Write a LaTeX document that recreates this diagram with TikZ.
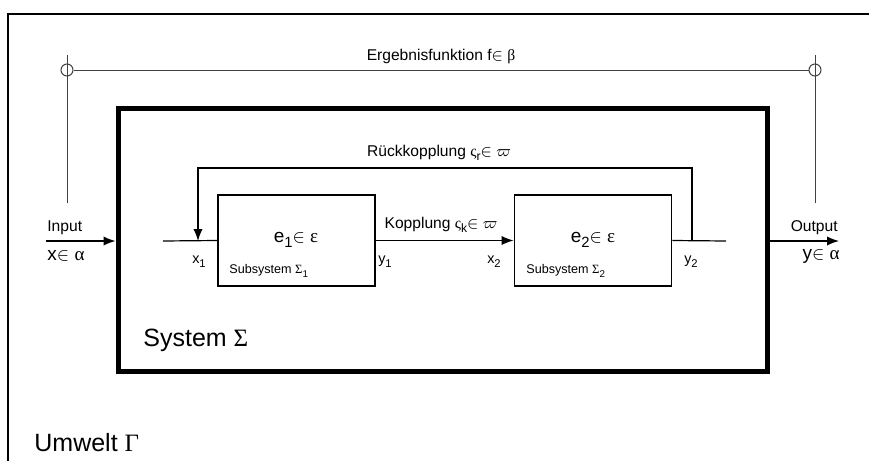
\documentclass[tikz,border=0pt]{standalone}
\usepackage{fontspec}
\setmainfont{Liberation Sans}
\newfontfamily\griech{Liberation Serif}
\usetikzlibrary{arrows.meta}

% tiefgestellter Index, ganz unter die Grundlinie
\newcommand\idx[1]{\raisebox{-0.55ex}{\scalebox{0.78}{#1}}}
\newcommand\gr[1]{{\griech #1}}

\tikzset{
pfeil/.style={-{Latex[length=6pt,width=4.6pt]}},
linie/.style={line width=0.6pt},
duenn/.style={line width=0.5pt, black!75},
teilbox/.style={draw, line width=0.9pt, minimum width=78.5pt, minimum height=45.5pt, inner sep=0pt},
sysbox/.style={draw, line width=2.5pt, minimum width=324.5pt, minimum height=131.5pt, inner sep=0pt},
klein/.style={font=\fontsize{6.3}{7}\selectfont, inner sep=0pt},
index/.style={font=\fontsize{7.2}{8}\selectfont, inner sep=0pt},
mittel/.style={font=\fontsize{7.8}{9}\selectfont, inner sep=0pt},
gross/.style={font=\fontsize{12.5}{14}\selectfont, inner sep=0pt}
}

\begin{document}
\begin{tikzpicture}[x=0.5pt,y=-0.5pt]

\useasboundingbox
(0,0)
rectangle
(869,461);

% Umwelt
\draw[line width=1pt]
(8,461)
|-
(869,14);

\node[gross, anchor=west]
(umwelt)
at (34,443)
{Umwelt \gr{Γ}};

% Ergebnisfunktion
\node[duenn, draw, circle, minimum size=6pt, inner sep=0pt]
(kl)
at (67,70)
{};

\node[duenn, draw, circle, minimum size=6pt, inner sep=0pt]
(kr)
at (815,70)
{};

\draw[duenn]
(kl.east)
--
(kr.west);

\coordinate (vl1) at (67,55);
\coordinate (vl2) at (67,203);
\coordinate (vr1) at (815,55);
\coordinate (vr2) at (815,203);

\draw[duenn]
(vl1)
--
(vl2);

\draw[duenn]
(vr1)
--
(vr2);

\node[mittel]
(erg)
at (441,57)
{Ergebnisfunktion f$\in$ \gr{β}};

% System
\node[sysbox]
(sys)
at (442.5,239.5)
{};

\node[gross, anchor=west]
(sysname)
at (143,340)
{System \gr{Σ}};

% Input und Output
\coordinate (ein) at (46,241);
\coordinate (aus) at (839,241);

\draw[linie, pfeil]
(ein)
--
(sys.west |- ein);

\draw[linie, pfeil]
(sys.east |- aus)
--
(aus);

\node[mittel, anchor=west]
(input)
at (47,228)
{Input};

\node[mittel, anchor=west, font=\fontsize{9.5}{10}\selectfont]
(xin)
at (47,256)
{x$\in$ \gr{α}};

\node[mittel, anchor=east]
(output)
at (838,228)
{Output};

\node[mittel, anchor=east, font=\fontsize{9.5}{10}\selectfont]
(yout)
at (840,256)
{y$\in$ \gr{α}};

% Subsysteme
\node[teilbox]
(e1)
at (296.5,240.5)
{};

\node[teilbox]
(e2)
at (593,240.5)
{};

\node[font=\fontsize{9.5}{11}\selectfont, inner sep=0pt]
(e1txt)
at (296,240)
{e\idx{1}$\in$ \gr{ε}};

\node[font=\fontsize{9.5}{11}\selectfont, inner sep=0pt]
(e2txt)
at (593,240)
{e\idx{2}$\in$ \gr{ε}};

\node[klein, anchor=west]
(sub1)
at (229,271)
{Subsystem \gr{Σ}\idx{1}};

\node[klein, anchor=west]
(sub2)
at (526,271)
{Subsystem \gr{Σ}\idx{2}};

% Kopplungen
\coordinate (x1a) at (163,241);
\coordinate (y2a) at (726,241);
\coordinate (fbl) at (198,241);
\coordinate (fbr) at (692,241);
\coordinate (fbo) at (445,168);

\draw[linie]
(x1a)
--
(e1.west);

\draw[linie]
(e2.east)
--
(y2a);

\draw[linie, pfeil]
(e1.east)
--
(e2.west);

\draw[linie, pfeil]
(fbr)
|-
(fbo)
-|
(fbl);

\node[mittel]
(kopp)
at (441,225)
{Kopplung \gr{ς}\idx{k}$\in$ $\varpi$};

\node[mittel]
(rkopp)
at (439,153)
{R\"uckkopplung \gr{ς}\idx{r}$\in$ $\varpi$};

\node[index]
(x1)
at (199,262)
{x\idx{1}};

\node[index]
(y1)
at (385,262)
{y\idx{1}};

\node[index]
(x2)
at (494,262)
{x\idx{2}};

\node[index]
(y2)
at (691,262)
{y\idx{2}};

\end{tikzpicture}
\end{document}
